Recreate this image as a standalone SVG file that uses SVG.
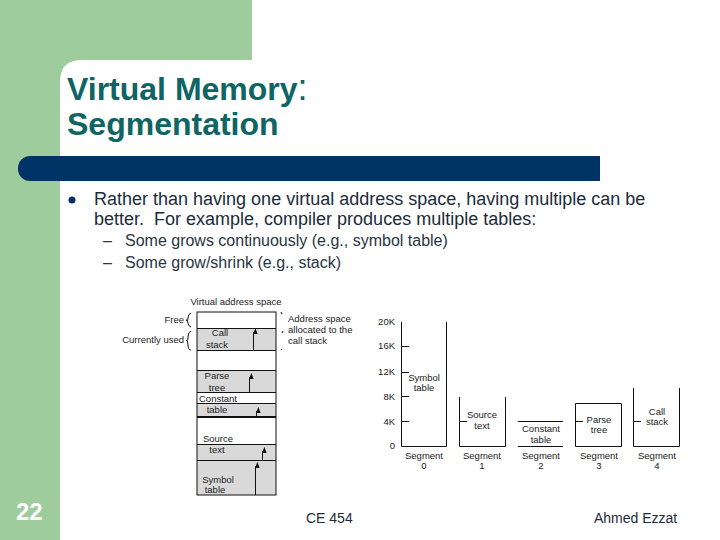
<svg xmlns="http://www.w3.org/2000/svg" width="720" height="540" viewBox="0 0 720 540">
<style>
.t{font-family:"Liberation Sans",Arial,sans-serif}
.title{font-size:32px;font-weight:bold;fill:#0f6464}
.body{font-size:18px;fill:#1c2b3a;white-space:pre}
.sub{font-size:16px;fill:#2a3540}
.d{font-size:9.5px;fill:#222;text-anchor:middle}
.l{font-size:9.5px;fill:#222}
.e{font-size:9.5px;fill:#222;text-anchor:end}
.ln{stroke:#111;stroke-width:1;fill:none}
.g{fill:#d9d9d9}
.a{stroke:#111;stroke-width:1;fill:none;marker-end:url(#h)}
</style>
<defs><marker id="h" markerUnits="userSpaceOnUse" markerWidth="6" markerHeight="8" refX="2.500" refY="0.500" orient="auto-start-reverse" viewBox="0 0 8 6"><path d="M0 0L8 3L0 6Z" fill="#111"/></marker></defs>
<rect width="720" height="540" fill="#fff"/>
<g id="background">
<rect x="0" y="0" width="252" height="60" fill="#9fcc9c"/>
<rect x="0" y="0" width="60" height="540" fill="#9fcc9c"/>
<path d="M60 60H82Q60 60 60 82Z" fill="#9fcc9c"/>
<rect x="18" y="156" width="582" height="25" rx="12" fill="#003366"/>
<rect x="40" y="156" width="560" height="25" fill="#003366"/>
</g>
<g id="title">
<text class="t title" x="67" y="100">Virtual Memory<tspan font-weight="normal" font-size="36">:</tspan></text>
<text class="t title" x="67" y="135">Segmentation</text>
</g>
<g id="bullets">
<circle cx="72" cy="200" r="3.500" fill="#003366"/>
<text class="t body" x="94" y="205">Rather than having one virtual address space, having multiple can be</text>
<text class="t body" x="94" y="225">better.  For example, compiler produces multiple tables:</text>
<text class="t sub" x="103" y="246">–</text>
<text class="t sub" x="125" y="246">Some grows continuously (e.g., symbol table)</text>
<text class="t sub" x="103" y="268">–</text>
<text class="t sub" x="125" y="268">Some grow/shrink (e.g., stack)</text>
</g>
<g id="address-space">
<rect class="g" x="197" y="328" width="79" height="22"/>
<rect class="g" x="197" y="370" width="79" height="22"/>
<rect class="g" x="197" y="403" width="79" height="14"/>
<rect class="g" x="197" y="444" width="79" height="51"/>
<rect class="ln" x="197" y="312" width="79" height="183"/>
<path class="ln" d="M197 328.500H276M197 350.500H276M197 370.500H276M197 392.500H276M197 403.500H276M197 444.500H276M197 460.500H276"/>
<path d="M197 417H276" stroke="#111" stroke-width="2"/>
<text class="t d" x="236" y="305">Virtual address space</text>
<text class="t e" x="184" y="323">Free</text>
<text class="t e" x="184" y="343">Currently used</text>
<path class="ln" stroke-width="0.8" d="M191 313Q188 314 188 318T186 320Q188 320 188 323T191 327M191 331Q188 332 188 337T186 340Q188 340 188 345T191 350"/>
<path class="ln" stroke-width="0.8" d="M281 312L282 314M283 331L282 333M282 349L281 350"/>
<text class="t l" x="288" y="322">Address space</text>
<text class="t l" x="288" y="333">allocated to the</text>
<text class="t l" x="288" y="344">call stack</text>
<text class="t d" x="220" y="336">Call</text>
<text class="t d" x="217" y="348">stack</text>
<text class="t d" x="217" y="379">Parse</text>
<text class="t d" x="217" y="391">tree</text>
<text class="t d" x="218" y="402">Constant</text>
<text class="t d" x="217" y="413">table</text>
<text class="t d" x="218" y="442">Source</text>
<text class="t d" x="217" y="453">text</text>
<text class="t d" x="218" y="483">Symbol</text>
<text class="t d" x="215" y="493">table</text>
</g>
<g id="segments">
<path class="ln" d="M401.500 322V446.500H446.500V322M401 346.500H409M401 372.500H409M401 396.500H409M401 421.500H409"/>
<path class="ln" d="M459.500 397V446.500H505.500V397M459 421.500H467"/>
<path class="ln" d="M518 421.500H563M518 446.500H563"/>
<path class="ln" d="M575.500 403.500H621.500V446.500H575.500ZM575 421.500H583"/>
<path class="ln" d="M633.500 388V446.500H679.500V388M633 421.500H641"/>
<text class="t e" x="395" y="325">20K</text>
<text class="t e" x="395" y="349">16K</text>
<text class="t e" x="395" y="375">12K</text>
<text class="t e" x="395" y="400">8K</text>
<text class="t e" x="395" y="425">4K</text>
<text class="t e" x="395" y="449">0</text>
<text class="t d" x="424" y="381">Symbol</text>
<text class="t d" x="424" y="391">table</text>
<text class="t d" x="482" y="418">Source</text>
<text class="t d" x="482" y="429">text</text>
<text class="t d" x="541" y="432">Constant</text>
<text class="t d" x="541" y="443">table</text>
<text class="t d" x="599" y="423">Parse</text>
<text class="t d" x="599" y="433">tree</text>
<text class="t d" x="657" y="415">Call</text>
<text class="t d" x="657" y="425">stack</text>
<text class="t d" x="424" y="459">Segment</text><text class="t d" x="424" y="469">0</text>
<text class="t d" x="482" y="459">Segment</text><text class="t d" x="482" y="469">1</text>
<text class="t d" x="541" y="459">Segment</text><text class="t d" x="541" y="469">2</text>
<text class="t d" x="599" y="459">Segment</text><text class="t d" x="599" y="469">3</text>
<text class="t d" x="657" y="459">Segment</text><text class="t d" x="657" y="469">4</text>
</g>
<g id="connectors">
<path class="a" d="M253.500 350V332"/>
<path class="a" d="M249.500 392V377"/>
<path class="a" d="M256.500 417V411"/>
<path class="a" d="M262.500 460V451"/>
<path class="a" d="M255.500 495V466"/>
</g>
<g id="footer">
<text class="t" x="16" y="520" font-size="24" font-weight="bold" fill="#fff">22</text>
<text class="t" x="306" y="523" font-size="14" fill="#1c2b3a">CE 454</text>
<text class="t" x="594" y="523" font-size="14" fill="#1c2b3a">Ahmed Ezzat</text>
</g>
</svg>
